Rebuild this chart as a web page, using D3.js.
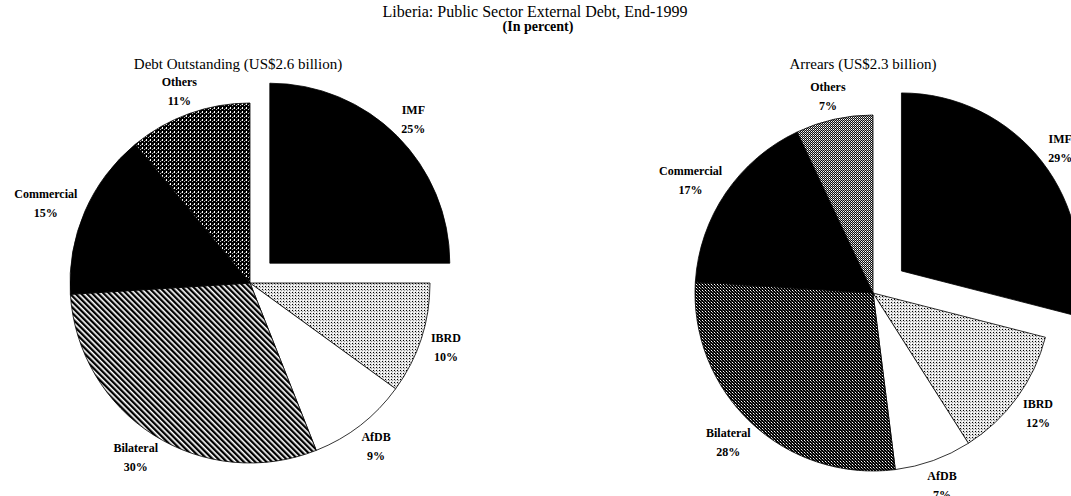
<!doctype html>
<html>
<head>
<meta charset="utf-8"/>
<script src="https://cdnjs.cloudflare.com/ajax/libs/d3/7.8.5/d3.min.js"></script>
<style>
  body { margin: 0; background: #fff; }
  text { font-family: "Liberation Serif", "Times New Roman", serif; fill: #000; }
  .lbl { font-size: 12px; font-weight: bold; }
</style>
</head>
<body>
<svg id="chart" width="1071" height="496"></svg>
<script>
// data
var categories = ["IMF", "IBRD", "AfDB", "Bilateral", "Commercial", "Others"];
var outstanding = [25, 10, 9, 30, 15, 11];
var arrears = [29, 12, 7, 28, 17, 7];
var pieTitles = ["Debt Outstanding (US$2.6 billion)", "Arrears (US$2.3 billion)"];

var svg = d3.select("#chart");
var defs = svg.append("defs");

// fill patterns (scanned look)
function pat(id, w, h, bg, cells, rot) {
  var p = defs.append("pattern").attr("id", id)
    .attr("patternUnits", "userSpaceOnUse").attr("width", w).attr("height", h);
  if (rot) p.attr("patternTransform", "rotate(" + rot + ")");
  p.append("rect").attr("width", w).attr("height", h).attr("fill", bg);
  cells.forEach(function(c) {
    p.append("rect").attr("x", c[0]).attr("y", c[1]).attr("width", c[2]).attr("height", c[3]).attr("fill", c[4]);
  });
}
pat("stripes", 4, 4, "#fff", [[0, 0, 2, 4, "#000"], [2, 0, 0.6, 4, "#777"]], -45);
pat("dots", 3, 3, "#e4e4e4", [[0, 0, 1, 1, "#000"], [1, 1, 1, 1, "#999"], [2, 2, 1, 1, "#fff"]]);
pat("darkweave", 4, 4, "#000", [[0, 0, 1, 2, "#fff"], [2, 2, 1, 1, "#bbb"], [3, 1, 1, 1, "#666"]]);
pat("crossdark", 3, 3, "#000", [[0, 0, 1, 1, "#fff"], [1, 1, 1, 1, "#999"], [2, 2, 1, 1, "#444"]]);
pat("checker", 2, 2, "#111", [[0, 0, 1, 1, "#fff"], [1, 1, 1, 1, "#aaa"]]);

var fillsLeft = ["#000", "url(#dots)", "#fff", "url(#stripes)", "#000", "url(#darkweave)"];
var fillsRight = ["#000", "url(#dots)", "#fff", "url(#crossdark)", "#000", "url(#checker)"];

// main titles
svg.append("text").attr("x", 535).attr("y", 17).attr("text-anchor", "middle")
  .style("font-size", "16px").text("Liberia: Public Sector External Debt, End-1999");
svg.append("text").attr("x", 538).attr("y", 31).attr("text-anchor", "middle")
  .style("font-size", "14px").style("font-weight", "bold").text("(In percent)");

var pie = d3.pie().sort(null).startAngle(0).endAngle(2 * Math.PI);

function drawPie(values, cx, cy, r, explode, fills, title, tx) {
  svg.append("text").attr("x", tx).attr("y", 69).attr("text-anchor", "middle")
    .style("font-size", "15px").text(title);

  var g = svg.append("g").attr("transform", "translate(" + cx + "," + cy + ")");
  var arc = d3.arc().innerRadius(0).outerRadius(r);
  var arcs = pie(values);

  arcs.forEach(function(a, i) {
    var mid = (a.startAngle + a.endAngle) / 2;
    var off = i === 0 ? explode : 0;
    var ox = off * Math.sin(mid), oy = -off * Math.cos(mid);
    var sg = g.append("g").attr("transform", "translate(" + ox + "," + oy + ")");
    sg.append("path").attr("d", arc(a)).attr("fill", fills[i])
      .attr("stroke", "#000").attr("stroke-width", 0.8);

    // label outside the slice, pushed out by half its box
    var t = sg.append("text").attr("class", "lbl").attr("text-anchor", "middle");
    var l1 = t.append("tspan").text(categories[i]);
    var l2 = t.append("tspan").text(values[i] + "%");
    var w = Math.max(l1.node().getComputedTextLength(), l2.node().getComputedTextLength());
    var gap = r + 11;
    var lx = gap * Math.sin(mid) + (w / 2) * Math.sin(mid);
    var ly = -gap * Math.cos(mid) - 14 * Math.cos(mid);
    l1.attr("x", lx).attr("y", ly - 4);
    l2.attr("x", lx).attr("y", ly + 15);
  });
}

drawPie(outstanding, 250, 283, 180, 28, fillsLeft, pieTitles[0], 238);
drawPie(arrears, 873, 293, 178, 36, fillsRight, pieTitles[1], 863);
</script>
</body>
</html>
